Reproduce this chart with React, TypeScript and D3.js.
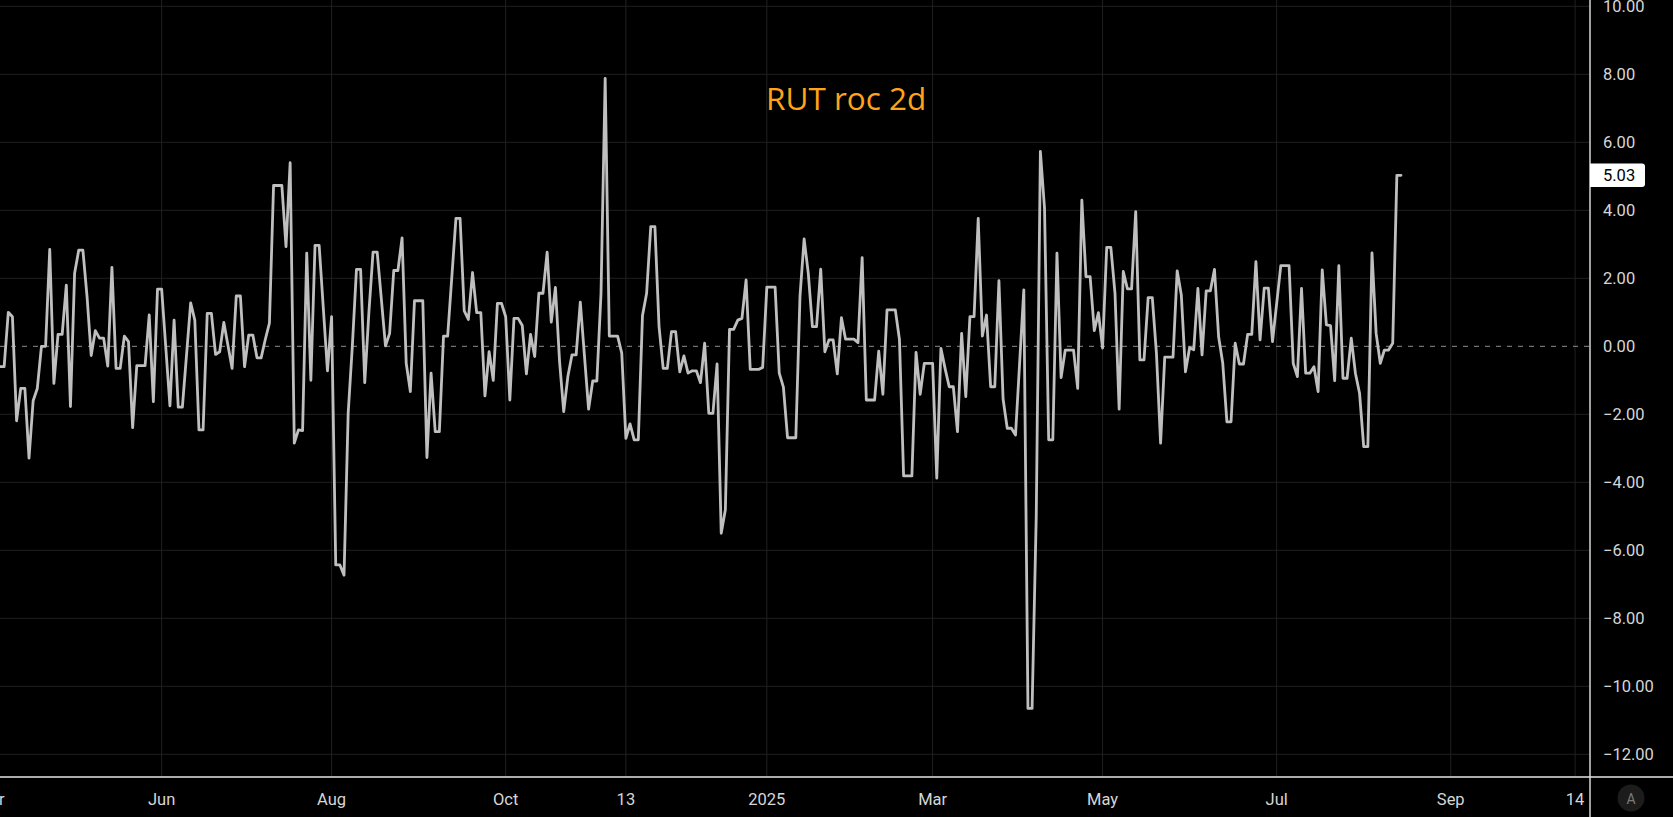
import React, { useEffect } from "react";
import * as d3 from "d3";

// ---- Data (daily bars, 2-day rate of change of RUT, %) ----
// one entry per trading bar; null = bar not read (line passes straight through)
const rocValues: (number | null)[] = [
  -0.60, -0.60, 1.00, 0.87, -2.19, -1.24, -1.24, -3.29, -1.60, -1.24,
  0.00, 0.00, 2.85, -1.09, 0.35, 0.35, 1.80, -1.77, 2.15, 2.83,
  2.83, 1.46, -0.27, 0.46, 0.24, 0.24, -0.58, 2.32, -0.65, -0.65,
  0.30, 0.14, -2.39, -0.57, -0.57, -0.57, 0.92, -1.63, 1.68, 1.68,
  null, -1.75, 0.77, -1.79, -1.79, null, 1.28, 0.77, -2.46, -2.46,
  0.97, 0.97, -0.24, -0.16, 0.70, null, -0.65, 1.48, 1.48, -0.60,
  0.33, 0.33, -0.34, -0.34, 0.20, 0.68, 4.73, 4.73, 4.73, 2.93,
  5.40, -2.85, -2.46, -2.48, 2.74, -1.00, 2.97, 2.97, null, -0.72,
  0.87, -6.43, -6.43, -6.73, -1.97, 0.00, 2.26, 2.26, -1.07, 1.00,
  2.77, 2.77, null, 0.01, 0.38, 2.23, 2.23, 3.19, -0.50, -1.33,
  1.34, 1.34, 1.34, -3.27, -0.79, -2.51, -2.51, 0.30, 0.30, null,
  3.76, 3.76, 1.04, 0.79, 2.17, 0.99, 0.99, -1.46, -0.16, -1.00,
  1.26, 1.26, 0.87, -1.58, 0.82, 0.82, 0.61, -0.81, 0.35, -0.30,
  1.56, 1.56, 2.77, 0.71, 1.73, -0.45, -1.92, -0.89, -0.25, -0.25,
  1.30, null, -1.85, -1.02, -1.02, 1.56, 7.88, 0.30, 0.30, 0.30,
  -0.20, -2.71, -2.28, -2.75, -2.75, 0.90, 1.56, 3.52, 3.52, 0.58,
  -0.65, -0.65, 0.43, 0.43, -0.75, -0.28, -0.79, -0.72, -0.72, -1.07,
  0.09, -1.97, -1.97, -0.52, -5.50, -4.81, 0.50, 0.50, 0.77, 0.82,
  1.95, -0.68, -0.68, -0.68, -0.62, 1.74, 1.74, 1.74, -0.79, -1.20,
  -2.69, -2.69, -2.69, 1.46, 3.16, 2.15, 0.58, 0.58, 2.27, -0.16,
  0.19, 0.19, -0.81, 0.84, 0.21, 0.21, 0.21, 0.11, 2.61, -1.58,
  -1.58, -1.58, -0.14, -1.41, 1.07, 1.07, 1.07, 0.20, -3.81, -3.81,
  -3.81, -0.18, -1.41, -0.50, -0.50, -0.50, -3.88, -0.06, -0.65, -1.19,
  -1.19, -2.51, 0.38, -1.48, 0.87, 0.87, 3.76, 0.30, 0.92, -1.19,
  -1.19, 1.93, -1.55, -2.41, -2.41, -2.61, null, 1.66, -10.65, -10.65,
  -5.00, 5.73, 4.06, -2.75, -2.75, 2.74, -0.92, -0.11, -0.11, -0.11,
  -1.24, 4.30, 2.05, 2.05, 0.46, 0.99, -0.05, 2.91, 2.91, 1.56,
  -1.85, 2.20, 1.69, 1.69, 3.96, -0.40, -0.40, 1.43, 1.43, -0.21,
  -2.85, -0.32, -0.32, -0.32, 2.22, 1.51, -0.75, -0.04, -0.10, 1.70,
  -0.25, 1.63, 1.63, 2.26, 0.28, -0.50, -2.22, -2.22, 0.09, -0.52,
  -0.52, 0.35, 0.35, 2.49, 0.19, 1.71, 1.71, 0.14, null, 2.37,
  2.37, 2.37, -0.50, -0.89, 1.70, -0.79, -0.79, -0.60, -1.33, 2.25,
  0.63, 0.61, -1.01, 2.37, -0.94, -0.94, 0.24, -0.79, -1.38, -2.95,
  -2.95, 2.75, 0.38, -0.50, -0.11, -0.11, 0.09, 5.03, 5.03,
];

const xTickLabels: string[] = ["Apr", "Jun", "Aug", "Oct", "13", "2025", "Mar", "May", "Jul", "Sep", "14"];
const xTickBars: number[] = [-2, 39, 80, 122, 151, 185, 225, 266, 308, 350, 380];
const yTickValues: number[] = [-12, -10, -8, -6, -4, -2, 0, 2, 4, 6, 8, 10];
const yDomain: [number, number] = [-12, 10];
const titleText = "RUT roc 2d";

// ---- Layout ----
const W = 1673;
const H = 817;
const plotRight = 1590;
const plotBottom = 777;
const lastBarX = 1401;

export default function App() {
  useEffect(() => {
    document.body.style.margin = "0";
    document.body.style.overflow = "hidden";
    document.body.style.background = "#000";
  }, []);

  const lastIdx = rocValues.length - 1;
  const x = d3.scaleLinear().domain([0, lastIdx]).range([0, lastBarX]);
  const y = d3.scaleLinear().domain(yDomain).range([754.3, 6.3]);
  const fmt = d3.format(".2f");

  const points = rocValues
    .map((v, i) => ({ i, v }))
    .filter((d) => d.v !== null) as { i: number; v: number }[];

  const line = d3
    .line<{ i: number; v: number }>()
    .x((d) => x(d.i))
    .y((d) => y(d.v));

  const lastVal = points[points.length - 1].v;
  const axisFont = "Roboto, 'Noto Sans', sans-serif";

  return (
    <svg width={W} height={H} style={{ display: "block", background: "#000" }}>
      <rect x={0} y={0} width={W} height={H} fill="#000" />
      <defs>
        <clipPath id="plotClip">
          <rect x={0} y={0} width={plotRight} height={plotBottom} />
        </clipPath>
      </defs>

      {/* grid */}
      <g>
        {yTickValues
          .filter((v) => v !== 0)
          .map((v) => (
            <line key={"gy" + v} x1={0} x2={plotRight} y1={y(v)} y2={y(v)} stroke="#202020" strokeWidth={1} />
          ))}
        {xTickBars.map((b, k) => (
          <line key={"gx" + k} x1={x(b)} x2={x(b)} y1={0} y2={plotBottom} stroke="#202020" strokeWidth={1} />
        ))}
      </g>

      {/* zero line */}
      <line x1={0} x2={plotRight} y1={y(0)} y2={y(0)} stroke="#8e8e8e" strokeWidth={1} strokeDasharray="5 6" />

      {/* title */}
      <text
        x={766}
        y={110}
        fill="#ffa31a"
        fontFamily="'Open Sans', 'Noto Sans', sans-serif"
        fontSize={31.5}
      >
        {titleText}
      </text>

      {/* series */}
      <g clipPath="url(#plotClip)">
        <path
          d={line(points) || ""}
          fill="none"
          stroke="#bfbfbf"
          strokeWidth={2.8}
          strokeLinejoin="round"
          strokeLinecap="round"
        />
      </g>

      {/* axes frame */}
      <line x1={0} x2={W} y1={plotBottom} y2={plotBottom} stroke="#e6e6e6" strokeWidth={1.4} />
      <line x1={plotRight} x2={plotRight} y1={0} y2={H} stroke="#e6e6e6" strokeWidth={1.4} />

      {/* right axis labels */}
      <g fontFamily={axisFont} fontSize={16.5} fill="#d6d6d6">
        {yTickValues.map((v) => (
          <text key={"yl" + v} x={1603} y={y(v)} dominantBaseline="central">
            {fmt(v)}
          </text>
        ))}
      </g>

      {/* last value label */}
      <path
        d={`M${plotRight},${y(lastVal) - 11.7} H${1642} Q${1645},${y(lastVal) - 11.7} ${1645},${y(lastVal) - 8.7} V${y(lastVal) + 8.7} Q${1645},${y(lastVal) + 11.7} ${1642},${y(lastVal) + 11.7} H${plotRight} Z`}
        fill="#ffffff"
      />
      <text x={1603} y={y(lastVal)} dominantBaseline="central" fontFamily={axisFont} fontSize={16.5} fill="#000">
        {fmt(lastVal)}
      </text>

      {/* bottom axis labels */}
      <g fontFamily={axisFont} fontSize={16.5} fill="#d6d6d6" textAnchor="middle">
        {xTickLabels.map((t, k) => (
          <text key={"xl" + k} x={x(xTickBars[k])} y={799} dominantBaseline="central">
            {t}
          </text>
        ))}
      </g>

      {/* auto-scale button */}
      <circle cx={1631} cy={798} r={13.5} fill="#1c1c1c" />
      <text x={1631} y={798.5} textAnchor="middle" dominantBaseline="central" fontFamily={axisFont} fontSize={14} fill="#7a7a7a">
        A
      </text>
    </svg>
  );
}
